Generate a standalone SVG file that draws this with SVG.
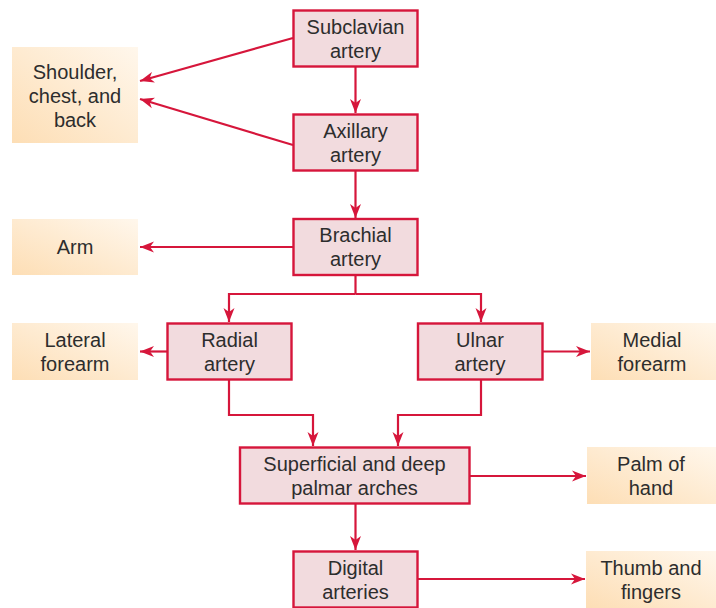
<svg xmlns="http://www.w3.org/2000/svg" width="716" height="608" viewBox="0 0 716 608">
<style>
.art{fill:#f2dbde;stroke:#d6163b;stroke-width:2.4}
.tgt{fill:url(#peach)}
text{font-family:"Liberation Sans",Arial,sans-serif;font-size:20px;fill:#2d2d2d;text-anchor:middle}
.c{fill:none;stroke:#d6163b;stroke-width:2.2;marker-end:url(#ah)}
.l{fill:none;stroke:#d6163b;stroke-width:2.2}
</style>
<defs>
<linearGradient id="peach" x1="1" y1="0" x2="0" y2="1">
<stop offset="0" stop-color="#fff7ec"/>
<stop offset="1" stop-color="#fddeb5"/>
</linearGradient>
<marker id="ah" markerUnits="userSpaceOnUse" markerWidth="15" markerHeight="12" refX="14" refY="6" orient="auto">
<path d="M0,0.5 L14,6 L0,11.5 L4,6 Z" fill="#d6163b"/>
</marker>
</defs>

<g id="connectors">
<path class="c" d="M293,38 L140,81"/>
<path class="c" d="M293,145 L140,99"/>
<path class="c" d="M355.5,67 L355.5,113"/>
<path class="c" d="M355.5,171 L355.5,218"/>
<path class="c" d="M293,247 L140,247"/>
<path class="l" d="M355.5,275 L355.5,294"/>
<path class="c" d="M355.5,294 L229,294 L229,322"/>
<path class="c" d="M355.5,294 L481,294 L481,322"/>
<path class="c" d="M167,351.5 L140,351.5"/>
<path class="c" d="M543,351.5 L590,351.5"/>
<path class="c" d="M229,380 L229,415 L313,415 L313,446"/>
<path class="c" d="M481,380 L481,415 L398,415 L398,446"/>
<path class="c" d="M470,476 L586,476"/>
<path class="c" d="M355.5,504 L355.5,550"/>
<path class="c" d="M418,579 L585,579"/>
</g>

<g id="subclavian"><rect class="art" x="293.5" y="10.5" width="124" height="56"/><text x="355.5" y="33.5">Subclavian</text><text x="355.5" y="57.5">artery</text></g>
<g id="axillary"><rect class="art" x="293.5" y="114.5" width="124" height="56"/><text x="355.5" y="137.5">Axillary</text><text x="355.5" y="161.5">artery</text></g>
<g id="brachial"><rect class="art" x="293.5" y="219" width="124" height="56"/><text x="355.5" y="242">Brachial</text><text x="355.5" y="266">artery</text></g>
<g id="radial"><rect class="art" x="167.5" y="323.5" width="124" height="56"/><text x="229.5" y="346.5">Radial</text><text x="229.5" y="370.5">artery</text></g>
<g id="ulnar"><rect class="art" x="418" y="323.5" width="124.5" height="56"/><text x="480" y="346.5">Ulnar</text><text x="480" y="370.5">artery</text></g>
<g id="palmar"><rect class="art" x="240" y="447.5" width="229.5" height="56"/><text x="354.5" y="471">Superficial and deep</text><text x="354.5" y="495">palmar arches</text></g>
<g id="digital"><rect class="art" x="293.5" y="551.5" width="124" height="56"/><text x="355.5" y="575">Digital</text><text x="355.5" y="599">arteries</text></g>

<g id="shoulder"><rect class="tgt" x="12" y="47" width="126" height="96"/><text x="75" y="79">Shoulder,</text><text x="75" y="103">chest, and</text><text x="75" y="127">back</text></g>
<g id="arm"><rect class="tgt" x="12" y="219" width="126" height="56"/><text x="75" y="254">Arm</text></g>
<g id="lateral"><rect class="tgt" x="12" y="323" width="126" height="57"/><text x="75" y="346.5">Lateral</text><text x="75" y="370.5">forearm</text></g>
<g id="medial"><rect class="tgt" x="591" y="323" width="125" height="57"/><text x="652" y="346.5">Medial</text><text x="652" y="370.5">forearm</text></g>
<g id="palm"><rect class="tgt" x="587" y="447" width="129" height="57"/><text x="651" y="471">Palm of</text><text x="651" y="495">hand</text></g>
<g id="thumb"><rect class="tgt" x="586" y="551" width="130" height="57"/><text x="651" y="575">Thumb and</text><text x="651" y="599">fingers</text></g>
</svg>
